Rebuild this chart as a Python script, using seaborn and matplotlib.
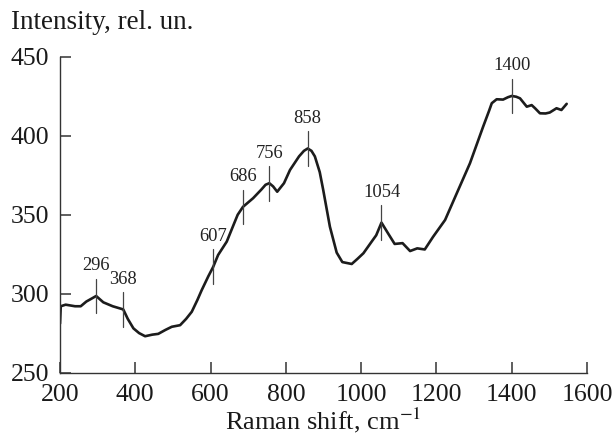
import numpy as np
import pandas as pd
import matplotlib
matplotlib.use("Agg")
import matplotlib.pyplot as plt
import seaborn as sns

# Raman spectrum (shift in cm^-1, intensity in relative units)
shift = [200, 202, 215, 240, 255, 270, 285, 296, 315, 340, 368, 380, 395, 410,
         426, 445, 461, 480, 497, 519, 535, 550, 565, 576, 594, 607, 620, 643,
         660, 672, 686, 713, 735, 746, 756, 766, 777, 795, 811, 835, 848, 858,
         868, 877, 890, 899, 917, 935, 950, 975, 990, 1006, 1028, 1040, 1054,
         1072, 1089, 1110, 1130, 1149, 1169, 1191, 1223, 1254, 1289, 1324, 1340,
         1347, 1360, 1377, 1390, 1400, 1412, 1422, 1440, 1453, 1462, 1475, 1490,
         1501, 1519, 1532, 1546]
intensity = [281, 292, 293, 292, 292, 295, 297, 298.5, 294.5, 292, 290, 284,
             278, 275, 273, 274, 274.5, 277, 279, 280, 284, 288.5, 296, 302,
             311, 317, 324.5, 333, 343, 350, 355, 360.5, 366, 369, 370, 368,
             364.6, 370, 378.4, 387, 390.5, 392, 390.5, 387, 377, 366, 342.4,
             326, 320, 318.8, 322, 325.6, 333, 337, 345, 338, 331.5, 332, 327,
             328.7, 328, 336, 346.7, 363.6, 382.6, 405.8, 416, 420.7, 423.2, 423,
             424.5, 425.3, 424.8, 423.8, 418.5, 419.5, 417.5, 414.3, 414.2,
             414.8, 417.5, 416.4, 420.3]

# Marked bands
peaks = [296, 368, 607, 686, 756, 858, 1054, 1400]

x_ticks = [200, 400, 600, 800, 1000, 1200, 1400, 1600]
y_ticks = [250, 300, 350, 400, 450]

sns.set_theme(style="ticks")
plt.rcParams["font.family"] = ["Liberation Serif", "DejaVu Serif"]
plt.rcParams["mathtext.fontset"] = "stix"
plt.rcParams["xtick.direction"] = "in"
plt.rcParams["ytick.direction"] = "in"

df = pd.DataFrame({"shift": shift, "intensity": intensity})

fig = plt.figure(figsize=(6.13, 4.36), dpi=100)
ax = fig.add_axes([0.0979, 0.1456, 0.8597, 0.7237])

ink = "#1c1c1c"
sns.lineplot(data=df, x="shift", y="intensity", ax=ax, color=ink,
             linewidth=1.9, sort=False)

# Band markers: short vertical bar through the curve with the label above
for p in peaks:
    yv = float(np.interp(p, shift, intensity))
    ax.plot([p, p], [yv - 11, yv + 11], color="#444444", linewidth=0.9)
    ax.annotate(str(p), xy=(p, yv + 11), xytext=(0, 3),
                textcoords="offset points", ha="center", va="bottom",
                fontsize=13.3, color="#222222")

ax.set_xlim(200, 1600)
ax.set_ylim(250, 450)
ax.set_xticks(x_ticks)
ax.set_yticks(y_ticks)
ax.tick_params(axis="both", which="major", bottom=True, left=True,
               direction="in", length=8, width=1.1, color="#333333",
               labelcolor="#1a1a1a", labelsize=18.5, pad=8)

for side in ("top", "right"):
    ax.spines[side].set_visible(False)
for side in ("left", "bottom"):
    ax.spines[side].set_color("#333333")
    ax.spines[side].set_linewidth(1.0)

ax.set_xlabel("Raman shift, cm$^{-1}$", fontsize=19, color="#1a1a1a",
              labelpad=0)
ax.set_ylabel("")
fig.text(0.018, 0.948, "Intensity, rel. un.", fontsize=19.5,
         color="#1a1a1a", ha="left", va="center")

fig.savefig("out.png", dpi=100)
